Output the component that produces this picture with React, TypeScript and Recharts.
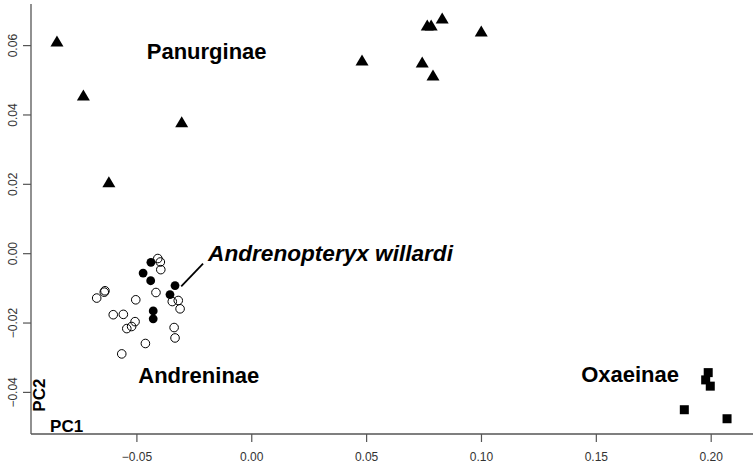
import { ReferenceDot, ReferenceLine, Scatter, ScatterChart, XAxis, YAxis } from 'recharts';

type Pt = { x: number; y: number };

const xTicks = [-0.05, 0, 0.05, 0.1, 0.15, 0.2];
const yTicks = [-0.04, -0.02, 0, 0.02, 0.04, 0.06];
const xDomain: [number, number] = [-0.0961, 0.2182];
const yDomain: [number, number] = [-0.052, 0.072];

const panurginae: Pt[] = [
  { x: -0.0848, y: 0.0612 },
  { x: -0.0733, y: 0.0456 },
  { x: -0.0622, y: 0.0206 },
  { x: -0.0305, y: 0.0379 },
  { x: 0.048, y: 0.0557 },
  { x: 0.0764, y: 0.0658 },
  { x: 0.0781, y: 0.0658 },
  { x: 0.0829, y: 0.0678 },
  { x: 0.0999, y: 0.0641 },
  { x: 0.0742, y: 0.0551 },
  { x: 0.0789, y: 0.0514 },
];

const oxaeinae: Pt[] = [
  { x: 0.1987, y: -0.0343 },
  { x: 0.1976, y: -0.0364 },
  { x: 0.1996, y: -0.0382 },
  { x: 0.1883, y: -0.045 },
  { x: 0.2069, y: -0.0476 },
];

const andreninaeFilled: Pt[] = [
  { x: -0.0439, y: -0.0025 },
  { x: -0.0473, y: -0.0056 },
  { x: -0.044, y: -0.0078 },
  { x: -0.0334, y: -0.0092 },
  { x: -0.0356, y: -0.0118 },
  { x: -0.0429, y: -0.0165 },
  { x: -0.0429, y: -0.0188 },
];

const andreninaeOpen: Pt[] = [
  { x: -0.0409, y: -0.0014 },
  { x: -0.0398, y: -0.0024 },
  { x: -0.0396, y: -0.0046 },
  { x: -0.0639, y: -0.0107 },
  { x: -0.0642, y: -0.0111 },
  { x: -0.0675, y: -0.0128 },
  { x: -0.0505, y: -0.0133 },
  { x: -0.0417, y: -0.0112 },
  { x: -0.0346, y: -0.0138 },
  { x: -0.032, y: -0.0135 },
  { x: -0.0312, y: -0.0159 },
  { x: -0.0603, y: -0.0176 },
  { x: -0.0559, y: -0.0175 },
  { x: -0.0508, y: -0.0196 },
  { x: -0.0523, y: -0.021 },
  { x: -0.0544, y: -0.0216 },
  { x: -0.0338, y: -0.0213 },
  { x: -0.0334, y: -0.0243 },
  { x: -0.0463, y: -0.0259 },
  { x: -0.0566, y: -0.0289 },
];

const groupLabels = [
  { text: 'Panurginae', x: -0.0457, y: 0.0562, italic: false },
  { text: 'Andreninae', x: -0.0494, y: -0.0373, italic: false },
  { text: 'Oxaeinae', x: 0.1434, y: -0.0369, italic: false },
  { text: 'Andrenopteryx willardi', x: -0.019, y: -0.0022, italic: true },
];

const pointerLine: [Pt, Pt] = [
  { x: -0.0307, y: -0.0094 },
  { x: -0.0212, y: -0.0029 },
];

const fmt = (v: number) => (v < 0 ? '\u2212' : '') + Math.abs(v).toFixed(2);
const font = 'Liberation Sans, Arial, sans-serif';
const frame = '#555';

// plot box edges (set by margins + axis sizes below)
const PLOT_LEFT = 31;
const PLOT_BOTTOM = 434;

const Triangle = ({ cx, cy }: any) => (
  <polygon points={`${cx},${cy - 6} ${cx - 6.5},${cy + 5} ${cx + 6.5},${cy + 5}`} fill="#000" />
);
const Square = ({ cx, cy }: any) => <rect x={cx - 4.5} y={cy - 4.5} width={9} height={9} fill="#000" />;
const Dot = ({ cx, cy }: any) => <circle cx={cx} cy={cy} r={4.4} fill="#000" />;
const Ring = ({ cx, cy }: any) => <circle cx={cx} cy={cy} r={4.3} fill="none" stroke="#000" strokeWidth={1} />;

const XTick = ({ x, payload }: any) => (
  <g>
    <line x1={x} x2={x} y1={PLOT_BOTTOM} y2={PLOT_BOTTOM + 8} stroke={frame} strokeWidth={1.2} />
    <text x={x} y={PLOT_BOTTOM + 26.5} textAnchor="middle" fontSize={12} fill="#333" fontFamily={font}>
      {fmt(payload.value)}
    </text>
  </g>
);

const YTick = ({ y, payload }: any) => (
  <g>
    <line x1={PLOT_LEFT - 8} x2={PLOT_LEFT} y1={y} y2={y} stroke={frame} strokeWidth={1.2} />
    <text x={17} y={y} textAnchor="middle" fontSize={12} fill="#333" fontFamily={font} transform={`rotate(-90, 17, ${y})`}>
      {fmt(payload.value)}
    </text>
  </g>
);

const BigLabel = (text: string, italic: boolean) => ({ cx, cy }: any) => (
  <text
    x={cx}
    y={cy}
    fontSize={italic ? 22.6 : 22}
    fontWeight="bold"
    fontStyle={italic ? 'italic' : 'normal'}
    fontFamily={font}
    fill="#000"
  >
    {text}
  </text>
);

export default function App() {
  return (
    <div style={{ position: 'absolute', left: 0, top: 0, width: 756, height: 464, background: '#fff' }}>
      <ScatterChart width={756} height={464} margin={{ top: 4, right: 3, bottom: 0, left: 0 }}>
        <XAxis
          type="number"
          dataKey="x"
          domain={xDomain}
          ticks={xTicks}
          allowDataOverflow
          height={30}
          tickSize={8}
          stroke={frame}
          axisLine={{ stroke: frame, strokeWidth: 1.3 }}
          tickLine={false}
          tick={<XTick />}
        />
        <XAxis
          xAxisId="top"
          orientation="top"
          type="number"
          dataKey="x"
          domain={xDomain}
          allowDataOverflow
          height={0}
          tick={false}
          tickLine={false}
          axisLine={{ stroke: frame, strokeWidth: 1.3 }}
        />
        <YAxis
          type="number"
          dataKey="y"
          domain={yDomain}
          ticks={yTicks}
          allowDataOverflow
          width={31}
          tickSize={8}
          stroke={frame}
          axisLine={{ stroke: frame, strokeWidth: 1.3 }}
          tickLine={false}
          tick={<YTick />}
        />
        <YAxis
          yAxisId="right"
          orientation="right"
          type="number"
          dataKey="y"
          domain={yDomain}
          allowDataOverflow
          width={0}
          tick={false}
          tickLine={false}
          axisLine={{ stroke: frame, strokeWidth: 1.3 }}
        />
        <ReferenceLine segment={pointerLine} stroke="#000" strokeWidth={1.8} ifOverflow="visible" />
        <Scatter data={panurginae} shape={<Triangle />} isAnimationActive={false} />
        <Scatter data={oxaeinae} shape={<Square />} isAnimationActive={false} />
        <Scatter data={andreninaeOpen} shape={<Ring />} isAnimationActive={false} />
        <Scatter data={andreninaeFilled} shape={<Dot />} isAnimationActive={false} />
        {groupLabels.map((l) => (
          <ReferenceDot key={l.text} x={l.x} y={l.y} ifOverflow="visible" shape={BigLabel(l.text, l.italic)} />
        ))}
        <ReferenceDot
          x={-0.0878}
          y={-0.0513}
          ifOverflow="visible"
          shape={({ cx, cy }: any) => (
            <text x={cx} y={cy} fontSize={17} fontWeight="bold" fontFamily={font} fill="#000">
              PC1
            </text>
          )}
        />
        <ReferenceDot
          x={-0.0901}
          y={-0.0408}
          ifOverflow="visible"
          shape={({ cx, cy }: any) => (
            <text
              x={cx}
              y={cy}
              fontSize={17}
              fontWeight="bold"
              fontFamily={font}
              fill="#000"
              textAnchor="middle"
              transform={`rotate(-90, ${cx}, ${cy})`}
            >
              PC2
            </text>
          )}
        />
      </ScatterChart>
    </div>
  );
}
